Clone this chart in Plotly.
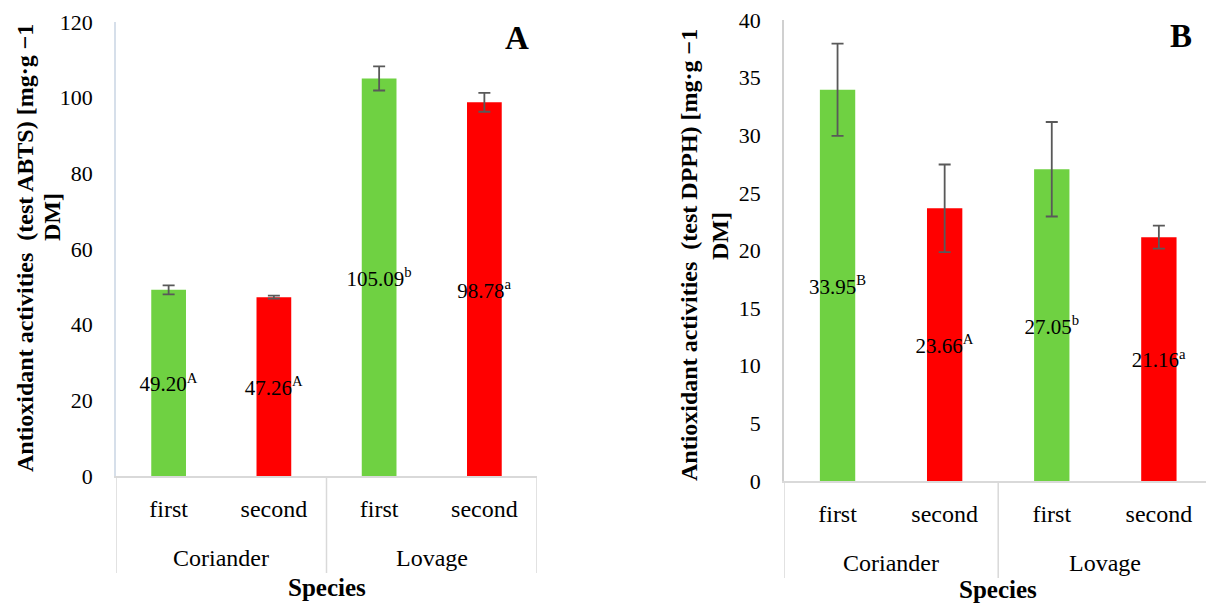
import plotly.graph_objects as go

species = ["Coriander", "Coriander", "Lovage", "Lovage"]
harvest = ["first", "second", "first", "second"]
abts = [49.20, 47.26, 105.09, 98.78]
abts_err = [1.2, 0.4, 3.2, 2.5]
abts_sig = ["A", "A", "b", "a"]
dpph = [33.95, 23.66, 27.05, 21.16]
dpph_err = [4.0, 3.8, 4.1, 1.0]
dpph_sig = ["B", "A", "b", "a"]
bar_colors = ["#6FD142", "#FF0000", "#6FD142", "#FF0000"]
abts_title = ["Antioxidant activities  (test ABTS) [mg·g −1", "DM]"]
dpph_title = ["Antioxidant activities  (test DPPH) [mg·g −1", "DM]"]

FONT = "Liberation Serif"
W, H = 1206, 603

def py(px):
    return 1 - px / H

def pxx(px):
    return px / W

cats = [f"{s} {h}" for s, h in zip(species, harvest)]
groups = []
for i, s in enumerate(species):
    if not groups or groups[-1][0] != s:
        groups.append([s, i, i])
    else:
        groups[-1][2] = i

fig = go.Figure()

for vals, errs, sig, xa, ya in [(abts, abts_err, abts_sig, "x", "y"),
                                 (dpph, dpph_err, dpph_sig, "x2", "y2")]:
    fig.add_trace(go.Bar(
        x=cats, y=vals, xaxis=xa, yaxis=ya,
        marker=dict(color=bar_colors, line=dict(width=0)),
        error_y=dict(type="data", array=errs, visible=True, color="#595959",
                     thickness=1.8, width=6),
        text=[f"{v:.2f}<sup>{s}</sup>" for v, s in zip(vals, sig)],
        textposition="inside", insidetextanchor="middle", textangle=0,
        constraintext="none", cliponaxis=False,
        textfont=dict(family=FONT, size=21, color="black"),
        showlegend=False, hoverinfo="skip",
    ))

xcommon = dict(type="category", categoryorder="array", categoryarray=cats,
               tickvals=cats, ticktext=harvest, automargin=False,
               showline=True, linecolor="#D9D9D9", linewidth=1.5,
               showgrid=False, ticks="outside", ticklen=10, tickcolor="rgba(0,0,0,0)",
               tickfont=dict(family=FONT, size=24, color="black"))
ycommon = dict(showgrid=False, showline=True, linewidth=1.5, automargin=False,
               ticks="outside", ticklen=17, tickcolor="rgba(0,0,0,0)",
               tickfont=dict(family=FONT, size=22, color="black"), zeroline=False)

def ann(text, x, y, size, xref="paper", angle=0):
    return dict(text=text, xref=xref, yref="paper", x=x, y=y, textangle=angle,
                xanchor="center", yanchor="middle", showarrow=False,
                font=dict(family=FONT, size=size, color="black"))

annotations = [
    ann("<b>A</b>", pxx(517), py(38), 33),
    ann("<b>B</b>", pxx(1181), py(36), 33),
]
shapes = []

panels = [
    ("x", 476, 327, abts_title, (25, 248), (52, 217)),
    ("x2", 481, 998, dpph_title, (689, 255), (720, 236)),
]
for xa, ybase, xmid, title, l1, l2 in panels:
    for name, i0, i1 in groups:
        annotations.append(ann(name, (i0 + i1) / 2, py(ybase + 82), 24, xref=xa))
    bounds = [groups[0][1] - 0.5] + [g[2] + 0.5 for g in groups]
    for b in bounds:
        shapes.append(dict(type="line", xref=xa, yref="paper", x0=b, x1=b,
                           y0=py(ybase), y1=py(ybase + 97),
                           line=dict(color="#D9D9D9", width=1.5)))
    annotations.append(ann("<b>Species</b>", pxx(xmid), py(min(ybase + 111, 589)), 25))
    annotations.append(ann(f"<b>{title[0]}</b>", pxx(l1[0]), py(l1[1]), 24, angle=-90))
    annotations.append(ann(f"<b>{title[1]}</b>", pxx(l2[0]), py(l2[1]), 24, angle=-90))

fig.update_layout(
    width=W, height=H,
    margin=dict(l=0, r=0, t=0, b=0),
    plot_bgcolor="white", paper_bgcolor="white",
    font=dict(family=FONT, color="black"),
    bargap=0.67,
    xaxis=dict(domain=[pxx(116), pxx(537)], anchor="y", range=[-0.5, 3.5], **xcommon),
    xaxis2=dict(domain=[pxx(784), 1.0], anchor="y2", range=[-0.5, 3.44], **xcommon),
    yaxis=dict(domain=[py(476), py(22)], anchor="x", range=[0, 120], dtick=20,
               linecolor="#D6DFEA", **ycommon),
    yaxis2=dict(domain=[py(481), py(20)], anchor="x2", range=[0, 40], dtick=5,
                linecolor="#D0D0D0", **ycommon),
    annotations=annotations,
    shapes=shapes,
)

fig.write_html("out.html", config={"displayModeBar": False},
               post_script="document.body.style.margin='0';document.body.style.overflow='hidden';")
